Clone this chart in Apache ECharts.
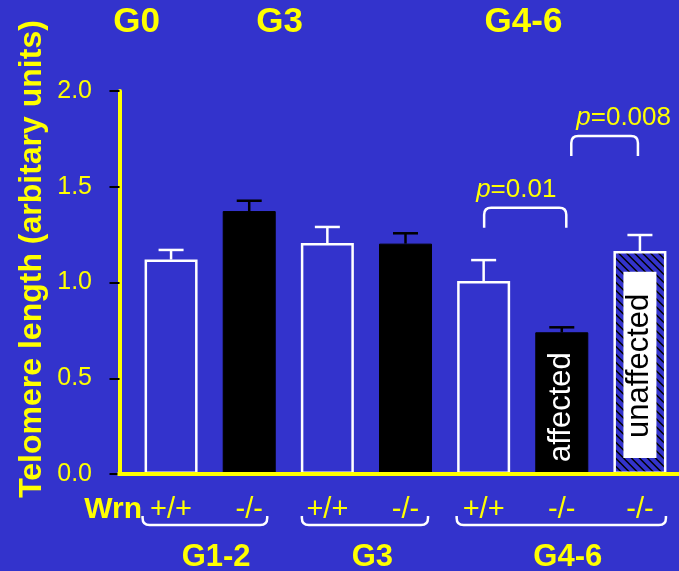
<!DOCTYPE html>
<html><head><meta charset="utf-8">
<script src="https://cdn.jsdelivr.net/npm/echarts@6/dist/echarts.min.js"></script>
<style>html,body{margin:0;padding:0;background:#3333cc}#c{width:679px;height:571px}</style>
</head><body><div id="c"></div>
<script>
// ---- data ----
const categories = ['+/+', '-/-', '+/+', '-/-', '+/+', '-/-', '-/-'];
const means = [1.12, 1.373, 1.206, 1.203, 1.008, 0.74, 1.164];
const errors = [0.05, 0.054, 0.084, 0.054, 0.109, 0.026, 0.084];
const barKinds = ['open', 'filled', 'open', 'filled', 'open', 'filled', 'hatched'];
const barTexts = ['', '', '', '', '', 'affected', 'unaffected'];
const groupNames = ['G1-2', 'G3', 'G4-6'];
const groupFrom = [0, 2, 4];
const groupTo = [1, 3, 6];
const generationLabels = ['G0', 'G3', 'G4-6'];
const bracketFrom = [4, 5];
const bracketTo = [5, 6];
const bracketHeights = [1.39, 1.765];
const pValues = ['0.01', '0.008'];
const yTicks = [0, 0.5, 1.0, 1.5, 2.0];
const yAxisTitle = 'Telomere length (arbitary units)';
const genotypeTitle = 'Wrn';

// ---- style ----
const BG = '#3333cc', YEL = '#ffff00', FONT = '"Liberation Sans", Arial, sans-serif';
const GRID_LEFT = 132, Y_OFFSET = 12.5, BAR_W = 53, HATCH_STEP = 8;
const kindStyle = {
  open: { color: BG, borderColor: '#fff', borderWidth: 2.5 },
  filled: { color: '#000', borderColor: '#000', borderWidth: 1 },
  hatched: { color: 'rgba(0,0,0,0)', borderColor: '#fff', borderWidth: 2.5 }
};
const errColor = { open: '#fff', filled: '#000', hatched: '#fff' };
const labelStyle = {
  filled: { color: '#fff', distance: 12 },
  hatched: { color: '#000', distance: 16, backgroundColor: '#fff', padding: [1, 22, 1, 20] }
};
const braceDx = [[-1.5, -8], [1.5, -3.5], [0, 0]];
const bracketDx = [[0.5, 4.5], [9.5, -2]];
const pTextDx = [-8, 5];
const genLabelX = [136.5, 279.5, 523.5];

const chart = echarts.init(document.getElementById('c'));

const barData = means.map((v, i) => {
  const k = barKinds[i];
  const d = { value: v, itemStyle: kindStyle[k] };
  if (barTexts[i]) {
    d.label = Object.assign({
      show: true, formatter: barTexts[i], position: 'insideBottom', rotate: 90,
      align: 'left', verticalAlign: 'middle', fontSize: 31, fontFamily: FONT
    }, labelStyle[k]);
  }
  return d;
});

const option = {
  backgroundColor: BG,
  animation: false,
  grid: { left: GRID_LEFT, width: 549, top: 91, bottom: 97 },
  xAxis: {
    type: 'category', data: categories, z: 5,
    axisLine: { show: true, lineStyle: { color: YEL, width: 4 } },
    axisTick: { show: false },
    axisLabel: { color: YEL, fontSize: 29, fontFamily: FONT, margin: 21, interval: 0 }
  },
  yAxis: {
    type: 'value', min: yTicks[0], max: yTicks[yTicks.length - 1], interval: yTicks[1] - yTicks[0],
    offset: Y_OFFSET, z: 5,
    splitLine: { show: false },
    axisLine: { show: true, lineStyle: { color: YEL, width: 4 } },
    axisTick: { show: true, length: 10, lineStyle: { color: '#000', width: 2 } },
    axisLabel: { color: YEL, fontSize: 25, fontFamily: FONT, margin: 27.5, formatter: v => v.toFixed(1) }
  },
  series: [
    // hatch fill (drawn beneath the transparent hatched bar)
    {
      type: 'custom', z: 1,
      data: means.map((m, i) => [i, m]).filter((d, i) => barKinds[i] === 'hatched'),
      encode: { x: 0, y: 1 },
      renderItem: (params, api) => {
        const i = api.value(0);
        const top = api.coord([i, api.value(1)]);
        const bot = api.coord([i, 0]);
        const x0 = top[0] - BAR_W / 2 + 1, x1 = top[0] + BAR_W / 2 - 1;
        const y0 = top[1] + 1, y1 = bot[1];
        const children = [];
        // lines y = x + c (top-left to bottom-right)
        for (let c = y0 - x1; c <= y1 - x0; c += HATCH_STEP) {
          const xa = Math.max(x0, y0 - c), xb = Math.min(x1, y1 - c);
          if (xb > xa) children.push({ type: 'line', shape: { x1: xa, y1: xa + c, x2: xb, y2: xb + c }, style: { stroke: '#000', lineWidth: 1.5 } });
        }
        return { type: 'group', children };
      }
    },
    { type: 'bar', data: barData, barWidth: BAR_W, z: 2 },
    {
      type: 'custom', z: 3,
      data: means.map((m, i) => [i, m, m + errors[i]]),
      encode: { x: 0, y: [1, 2] },
      renderItem: (params, api) => {
        const i = api.value(0);
        const p0 = api.coord([i, api.value(1)]);
        const p1 = api.coord([i, api.value(2)]);
        const c = errColor[barKinds[i]];
        const st = { stroke: c, lineWidth: 2.5 };
        return { type: 'group', children: [
          { type: 'line', shape: { x1: p0[0], y1: p0[1], x2: p1[0], y2: p1[1] }, style: st },
          { type: 'line', shape: { x1: p1[0] - 12.5, y1: p1[1], x2: p1[0] + 12.5, y2: p1[1] }, style: st }
        ] };
      }
    },
    {
      type: 'custom', z: 3,
      data: bracketFrom.map((f, k) => [f, bracketTo[k], bracketHeights[k], k]),
      encode: { x: [0, 1], y: 2 },
      renderItem: (params, api) => {
        const k = api.value(3);
        const a = api.coord([api.value(0), api.value(2)]);
        const b = api.coord([api.value(1), api.value(2)]);
        const xL = a[0] + bracketDx[k][0], xR = b[0] + bracketDx[k][1], y = a[1];
        const leg = 20, r = 7;
        const d = `M${xL} ${y + leg} L${xL} ${y + r} Q${xL} ${y} ${xL + r} ${y} L${xR - r} ${y} Q${xR} ${y} ${xR} ${y + r} L${xR} ${y + leg}`;
        return { type: 'group', children: [
          { type: 'path', shape: { pathData: d }, style: { stroke: '#fff', lineWidth: 2.5, fill: null } },
          { type: 'text', style: {
            text: '{i|p}=' + pValues[k], x: xL + pTextDx[k], y: y - 18, align: 'left', verticalAlign: 'middle',
            fill: YEL, fontSize: 26, fontFamily: FONT,
            rich: { i: { fontStyle: 'italic', fill: YEL, fontSize: 26, fontFamily: FONT } }
          } }
        ] };
      }
    },
    {
      type: 'custom', z: 3,
      data: groupFrom.map((f, k) => [f, groupTo[k], 0, k]),
      encode: { x: [0, 1], y: 2 },
      renderItem: (params, api) => {
        const k = api.value(3);
        const a = api.coord([api.value(0), 0]);
        const b = api.coord([api.value(1), 0]);
        const xL = a[0] - 27 + braceDx[k][0], xR = b[0] + 26 + braceDx[k][1];
        const yb = a[1] + 51, rise = 9, r = 7;
        const d = `M${xL} ${yb - rise} L${xL} ${yb - r} Q${xL} ${yb} ${xL + r} ${yb} L${xR - r} ${yb} Q${xR} ${yb} ${xR} ${yb - r} L${xR} ${yb - rise}`;
        return { type: 'group', children: [
          { type: 'path', shape: { pathData: d }, style: { stroke: '#fff', lineWidth: 2.5, fill: null } },
          { type: 'text', style: {
            text: groupNames[k], x: (a[0] + b[0]) / 2 + 6, y: a[1] + 83, align: 'center', verticalAlign: 'middle',
            fill: YEL, fontSize: 31, fontWeight: 'bold', fontFamily: FONT
          } }
        ] };
      }
    }
  ]
};
chart.setOption(option);

const y0 = chart.convertToPixel({ yAxisIndex: 0 }, 0);
const graphics = generationLabels.map((t, k) => ({
  type: 'text', x: genLabelX[k], y: 22.5,
  style: { text: t, align: 'center', verticalAlign: 'middle', fill: YEL, fontSize: 35, fontWeight: 'bold', fontFamily: FONT }
}));
graphics.push({
  type: 'text', x: 32, y: 259, rotation: Math.PI / 2,
  style: { text: yAxisTitle, align: 'center', verticalAlign: 'middle', fill: YEL, fontSize: 32, fontWeight: 'bold', fontFamily: FONT }
});
graphics.push({
  type: 'text', x: 142, y: 510,
  style: { text: genotypeTitle, align: 'right', verticalAlign: 'middle', fill: YEL, fontSize: 30, fontWeight: 'bold', fontFamily: FONT }
});
graphics.push({
  type: 'line', z: 10,
  shape: { x1: GRID_LEFT - Y_OFFSET - 2, y1: y0, x2: GRID_LEFT + 2, y2: y0 },
  style: { stroke: YEL, lineWidth: 4 }
});
chart.setOption({ graphic: graphics });
</script>
</body></html>
